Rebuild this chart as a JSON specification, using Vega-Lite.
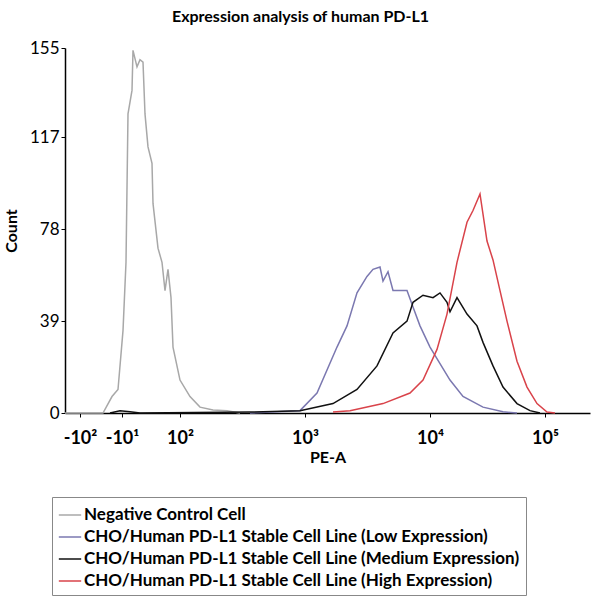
{
  "$schema": "https://vega.github.io/schema/vega-lite/v6.json",
  "autosize": "none",
  "width": 525,
  "height": 365,
  "padding": {"left": 65, "top": 48, "right": 5, "bottom": 184},
  "title": {"text": "Expression analysis of human PD-L1", "fontSize": 16, "font": "Lato", "fontWeight": "bold", "offset": 14, "anchor": "middle", "dx": -27},
  "data": {
    "values": [
      {"s": "Negative Control Cell", "x": 1.08, "c": 0},
      {"s": "Negative Control Cell", "x": 1.384, "c": 0},
      {"s": "Negative Control Cell", "x": 1.456, "c": 7},
      {"s": "Negative Control Cell", "x": 1.504, "c": 10},
      {"s": "Negative Control Cell", "x": 1.544, "c": 35},
      {"s": "Negative Control Cell", "x": 1.568, "c": 64},
      {"s": "Negative Control Cell", "x": 1.584, "c": 127},
      {"s": "Negative Control Cell", "x": 1.616, "c": 137},
      {"s": "Negative Control Cell", "x": 1.624, "c": 154},
      {"s": "Negative Control Cell", "x": 1.656, "c": 147},
      {"s": "Negative Control Cell", "x": 1.68, "c": 150},
      {"s": "Negative Control Cell", "x": 1.704, "c": 149},
      {"s": "Negative Control Cell", "x": 1.72, "c": 127},
      {"s": "Negative Control Cell", "x": 1.744, "c": 113},
      {"s": "Negative Control Cell", "x": 1.776, "c": 106},
      {"s": "Negative Control Cell", "x": 1.784, "c": 89},
      {"s": "Negative Control Cell", "x": 1.824, "c": 70},
      {"s": "Negative Control Cell", "x": 1.856, "c": 64},
      {"s": "Negative Control Cell", "x": 1.88, "c": 52},
      {"s": "Negative Control Cell", "x": 1.904, "c": 61},
      {"s": "Negative Control Cell", "x": 1.928, "c": 49},
      {"s": "Negative Control Cell", "x": 1.944, "c": 28},
      {"s": "Negative Control Cell", "x": 2.0, "c": 14},
      {"s": "Negative Control Cell", "x": 2.08, "c": 7},
      {"s": "Negative Control Cell", "x": 2.16, "c": 2.5},
      {"s": "Negative Control Cell", "x": 2.264, "c": 1.3},
      {"s": "Negative Control Cell", "x": 2.376, "c": 1},
      {"s": "Negative Control Cell", "x": 2.48, "c": 0},
      {"s": "CHO/Human PD-L1 Stable Cell Line (Low Expression)", "x": 2.56, "c": 0},
      {"s": "CHO/Human PD-L1 Stable Cell Line (Low Expression)", "x": 2.96, "c": 1},
      {"s": "CHO/Human PD-L1 Stable Cell Line (Low Expression)", "x": 3.096, "c": 8.5},
      {"s": "CHO/Human PD-L1 Stable Cell Line (Low Expression)", "x": 3.256, "c": 28},
      {"s": "CHO/Human PD-L1 Stable Cell Line (Low Expression)", "x": 3.336, "c": 37},
      {"s": "CHO/Human PD-L1 Stable Cell Line (Low Expression)", "x": 3.416, "c": 51},
      {"s": "CHO/Human PD-L1 Stable Cell Line (Low Expression)", "x": 3.496, "c": 58},
      {"s": "CHO/Human PD-L1 Stable Cell Line (Low Expression)", "x": 3.544, "c": 61},
      {"s": "CHO/Human PD-L1 Stable Cell Line (Low Expression)", "x": 3.6, "c": 62},
      {"s": "CHO/Human PD-L1 Stable Cell Line (Low Expression)", "x": 3.624, "c": 56},
      {"s": "CHO/Human PD-L1 Stable Cell Line (Low Expression)", "x": 3.664, "c": 60},
      {"s": "CHO/Human PD-L1 Stable Cell Line (Low Expression)", "x": 3.704, "c": 52},
      {"s": "CHO/Human PD-L1 Stable Cell Line (Low Expression)", "x": 3.76, "c": 52},
      {"s": "CHO/Human PD-L1 Stable Cell Line (Low Expression)", "x": 3.816, "c": 52},
      {"s": "CHO/Human PD-L1 Stable Cell Line (Low Expression)", "x": 3.864, "c": 45},
      {"s": "CHO/Human PD-L1 Stable Cell Line (Low Expression)", "x": 3.92, "c": 37},
      {"s": "CHO/Human PD-L1 Stable Cell Line (Low Expression)", "x": 4.0, "c": 28},
      {"s": "CHO/Human PD-L1 Stable Cell Line (Low Expression)", "x": 4.08, "c": 21},
      {"s": "CHO/Human PD-L1 Stable Cell Line (Low Expression)", "x": 4.16, "c": 14},
      {"s": "CHO/Human PD-L1 Stable Cell Line (Low Expression)", "x": 4.264, "c": 7},
      {"s": "CHO/Human PD-L1 Stable Cell Line (Low Expression)", "x": 4.424, "c": 2.5},
      {"s": "CHO/Human PD-L1 Stable Cell Line (Low Expression)", "x": 4.584, "c": 0.5},
      {"s": "CHO/Human PD-L1 Stable Cell Line (Low Expression)", "x": 4.696, "c": 0},
      {"s": "CHO/Human PD-L1 Stable Cell Line (Medium Expression)", "x": 1.44, "c": 0},
      {"s": "CHO/Human PD-L1 Stable Cell Line (Medium Expression)", "x": 1.52, "c": 1},
      {"s": "CHO/Human PD-L1 Stable Cell Line (Medium Expression)", "x": 1.6, "c": 0.5},
      {"s": "CHO/Human PD-L1 Stable Cell Line (Medium Expression)", "x": 1.68, "c": 0},
      {"s": "CHO/Human PD-L1 Stable Cell Line (Medium Expression)", "x": 2.56, "c": 0.4},
      {"s": "CHO/Human PD-L1 Stable Cell Line (Medium Expression)", "x": 2.96, "c": 1},
      {"s": "CHO/Human PD-L1 Stable Cell Line (Medium Expression)", "x": 3.224, "c": 4},
      {"s": "CHO/Human PD-L1 Stable Cell Line (Medium Expression)", "x": 3.416, "c": 10},
      {"s": "CHO/Human PD-L1 Stable Cell Line (Medium Expression)", "x": 3.576, "c": 20},
      {"s": "CHO/Human PD-L1 Stable Cell Line (Medium Expression)", "x": 3.704, "c": 34},
      {"s": "CHO/Human PD-L1 Stable Cell Line (Medium Expression)", "x": 3.816, "c": 39},
      {"s": "CHO/Human PD-L1 Stable Cell Line (Medium Expression)", "x": 3.864, "c": 47},
      {"s": "CHO/Human PD-L1 Stable Cell Line (Medium Expression)", "x": 3.944, "c": 50},
      {"s": "CHO/Human PD-L1 Stable Cell Line (Medium Expression)", "x": 4.024, "c": 49},
      {"s": "CHO/Human PD-L1 Stable Cell Line (Medium Expression)", "x": 4.08, "c": 51},
      {"s": "CHO/Human PD-L1 Stable Cell Line (Medium Expression)", "x": 4.136, "c": 47},
      {"s": "CHO/Human PD-L1 Stable Cell Line (Medium Expression)", "x": 4.16, "c": 43},
      {"s": "CHO/Human PD-L1 Stable Cell Line (Medium Expression)", "x": 4.216, "c": 49},
      {"s": "CHO/Human PD-L1 Stable Cell Line (Medium Expression)", "x": 4.296, "c": 42},
      {"s": "CHO/Human PD-L1 Stable Cell Line (Medium Expression)", "x": 4.376, "c": 37},
      {"s": "CHO/Human PD-L1 Stable Cell Line (Medium Expression)", "x": 4.424, "c": 30},
      {"s": "CHO/Human PD-L1 Stable Cell Line (Medium Expression)", "x": 4.504, "c": 20},
      {"s": "CHO/Human PD-L1 Stable Cell Line (Medium Expression)", "x": 4.584, "c": 11},
      {"s": "CHO/Human PD-L1 Stable Cell Line (Medium Expression)", "x": 4.696, "c": 4},
      {"s": "CHO/Human PD-L1 Stable Cell Line (Medium Expression)", "x": 4.8, "c": 1},
      {"s": "CHO/Human PD-L1 Stable Cell Line (Medium Expression)", "x": 4.88, "c": 0},
      {"s": "CHO/Human PD-L1 Stable Cell Line (High Expression)", "x": 3.224, "c": 0.4},
      {"s": "CHO/Human PD-L1 Stable Cell Line (High Expression)", "x": 3.36, "c": 1},
      {"s": "CHO/Human PD-L1 Stable Cell Line (High Expression)", "x": 3.624, "c": 4},
      {"s": "CHO/Human PD-L1 Stable Cell Line (High Expression)", "x": 3.84, "c": 8.5},
      {"s": "CHO/Human PD-L1 Stable Cell Line (High Expression)", "x": 3.944, "c": 14},
      {"s": "CHO/Human PD-L1 Stable Cell Line (High Expression)", "x": 4.056, "c": 27},
      {"s": "CHO/Human PD-L1 Stable Cell Line (High Expression)", "x": 4.136, "c": 42},
      {"s": "CHO/Human PD-L1 Stable Cell Line (High Expression)", "x": 4.216, "c": 64},
      {"s": "CHO/Human PD-L1 Stable Cell Line (High Expression)", "x": 4.296, "c": 81},
      {"s": "CHO/Human PD-L1 Stable Cell Line (High Expression)", "x": 4.344, "c": 86},
      {"s": "CHO/Human PD-L1 Stable Cell Line (High Expression)", "x": 4.4, "c": 93},
      {"s": "CHO/Human PD-L1 Stable Cell Line (High Expression)", "x": 4.456, "c": 73},
      {"s": "CHO/Human PD-L1 Stable Cell Line (High Expression)", "x": 4.504, "c": 65},
      {"s": "CHO/Human PD-L1 Stable Cell Line (High Expression)", "x": 4.56, "c": 52},
      {"s": "CHO/Human PD-L1 Stable Cell Line (High Expression)", "x": 4.616, "c": 39},
      {"s": "CHO/Human PD-L1 Stable Cell Line (High Expression)", "x": 4.696, "c": 22},
      {"s": "CHO/Human PD-L1 Stable Cell Line (High Expression)", "x": 4.776, "c": 11},
      {"s": "CHO/Human PD-L1 Stable Cell Line (High Expression)", "x": 4.856, "c": 4},
      {"s": "CHO/Human PD-L1 Stable Cell Line (High Expression)", "x": 4.936, "c": 0.4},
      {"s": "CHO/Human PD-L1 Stable Cell Line (High Expression)", "x": 5.0, "c": 0}
    ]
  },
  "mark": {"type": "line", "strokeWidth": 1.5, "interpolate": "linear"},
  "encoding": {
    "x": {
      "field": "x", "type": "quantitative",
      "scale": {"domain": [1.08, 5.28], "nice": false, "zero": false},
      "axis": {
        "title": "PE-A", "titleFontSize": 16, "titleFont": "Lato", "titleFontWeight": "bold", "titlePadding": 2,
        "values": [1.2, 1.536, 2, 3, 4, 4.92],
        "labelExpr": "datum.value < 1.3 ? '-10²' : datum.value < 1.6 ? '-10¹' : datum.value < 2.5 ? '10²' : datum.value < 3.5 ? '10³' : datum.value < 4.5 ? '10⁴' : '10⁵'",
        "labelFontSize": 18, "labelFont": "Lato", "labelFontWeight": "bold", "labelPadding": 12,
        "tickSize": 4, "domainColor": "#000", "tickColor": "#000", "domainWidth": 1.5, "labelColor": "#000", "titleColor": "#000"
      }
    },
    "y": {
      "field": "c", "type": "quantitative",
      "scale": {"domain": [0, 155], "nice": false},
      "axis": {
        "title": "Count", "titleFontSize": 16, "titleFont": "Lato", "titleFontWeight": "bold", "titlePadding": 10,
        "values": [0, 39, 78, 117, 155], "labelFontSize": 17, "labelFont": "Lato",
        "tickSize": 4, "domainColor": "#000", "tickColor": "#000", "domainWidth": 1.5, "labelColor": "#000", "titleColor": "#000"
      }
    },
    "color": {
      "field": "s", "type": "nominal",
      "scale": {
        "domain": ["Negative Control Cell", "CHO/Human PD-L1 Stable Cell Line (Low Expression)", "CHO/Human PD-L1 Stable Cell Line (Medium Expression)", "CHO/Human PD-L1 Stable Cell Line (High Expression)"],
        "range": ["#a8a8a8", "#7b78b0", "#111111", "#d9434a"]
      },
      "legend": {
        "title": null, "orient": "none", "legendX": -13, "legendY": 449, "direction": "vertical",
        "symbolType": "stroke", "symbolSize": 500, "symbolStrokeWidth": 1.5,
        "labelFontSize": 17, "labelFont": "Lato", "labelFontWeight": "bold", "labelColor": "#000",
        "strokeColor": "#888", "padding": 6, "rowPadding": 2, "labelOffset": 2, "labelLimit": 600
      }
    }
  },
  "config": {"view": {"stroke": null}, "axis": {"grid": false}}
}
